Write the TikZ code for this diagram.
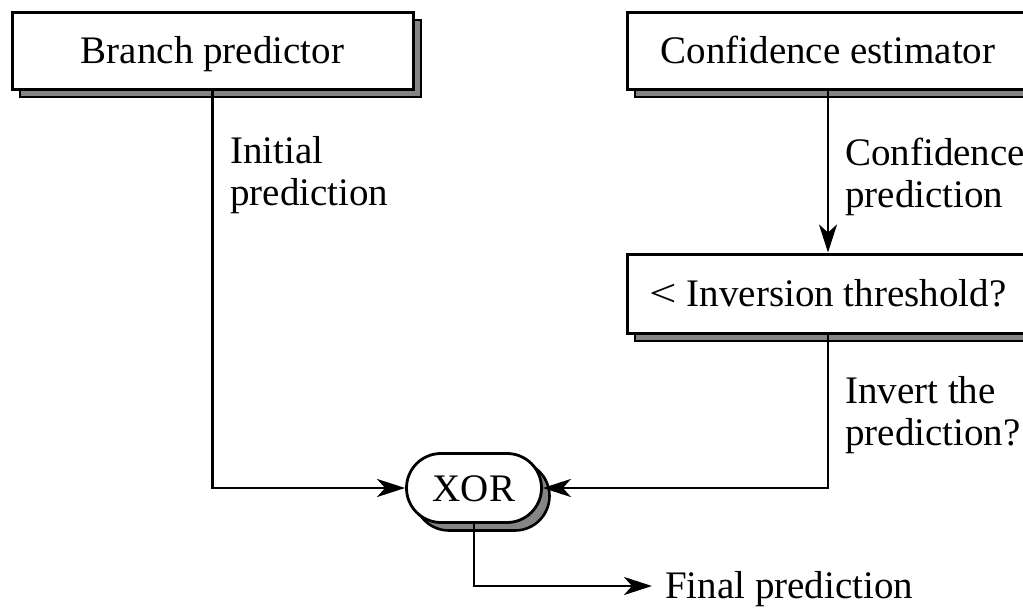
\documentclass[tikz,border=0pt]{standalone}
\usepackage{fontspec}
\setmainfont{Liberation Serif}
\usetikzlibrary{arrows.meta,shadows,shapes.misc}

\tikzset{
  boxshadow/.style={general shadow={shadow xshift=8pt, shadow yshift=-8pt,
      fill=black!48, draw=black, line width=2.6pt}},
  block/.style={draw, line width=3pt, fill=white, inner sep=0pt,
      minimum height=77pt, text height=26pt, text depth=0pt, boxshadow},
  xorbox/.style={rounded rectangle, draw, line width=2.8pt, fill=white,
      inner sep=0pt, minimum width=135pt, minimum height=69pt,
      text height=26pt, text depth=0pt, boxshadow},
  link/.style={line width=2.9pt, -{Stealth[length=28pt, width=18pt, inset=8pt]}},
  label/.style={align=left, inner sep=0pt, anchor=base west},
}

\begin{document}
\begin{tikzpicture}[x=1pt, y=-1pt, font=\fontsize{39}{42}\selectfont]
  \useasboundingbox (0,0) rectangle (1023,608);
  \clip (0,0) rectangle (1023,608);

  % blocks
  \node[block, minimum width=401pt] (branch) at (212.5,50.5) {Branch predictor};
  \node[block, minimum width=402pt] (conf) at (828,50.5) {Confidence estimator};
  \node[block, minimum width=402pt, minimum height=79pt] (inv) at (828,293.5)
    {\scalebox{1.25}[1]{<} Inversion threshold?};
  \node[xorbox] (xor) at (474,488) {XOR};
  \coordinate (out) at (652,586);

  % connectors
  \draw[link] (branch.south) |- (xor.west);
  \draw[link] (conf.south) -- (inv.north);
  \draw[link] (inv.south) |- (xor.east);
  \draw[link] (xor.south) |- (out);

  % labels (anchored at the baseline of their last line)
  \node[label] (lblinit) at (230,205) {Initial\\prediction};
  \node[label] (lblconf) at (845,207) {Confidence\\prediction};
  \node[label] (lblinv) at (845,445) {Invert the\\prediction?};
  \node[label] (lblfinal) at (665,598) {Final prediction};
\end{tikzpicture}
\end{document}
